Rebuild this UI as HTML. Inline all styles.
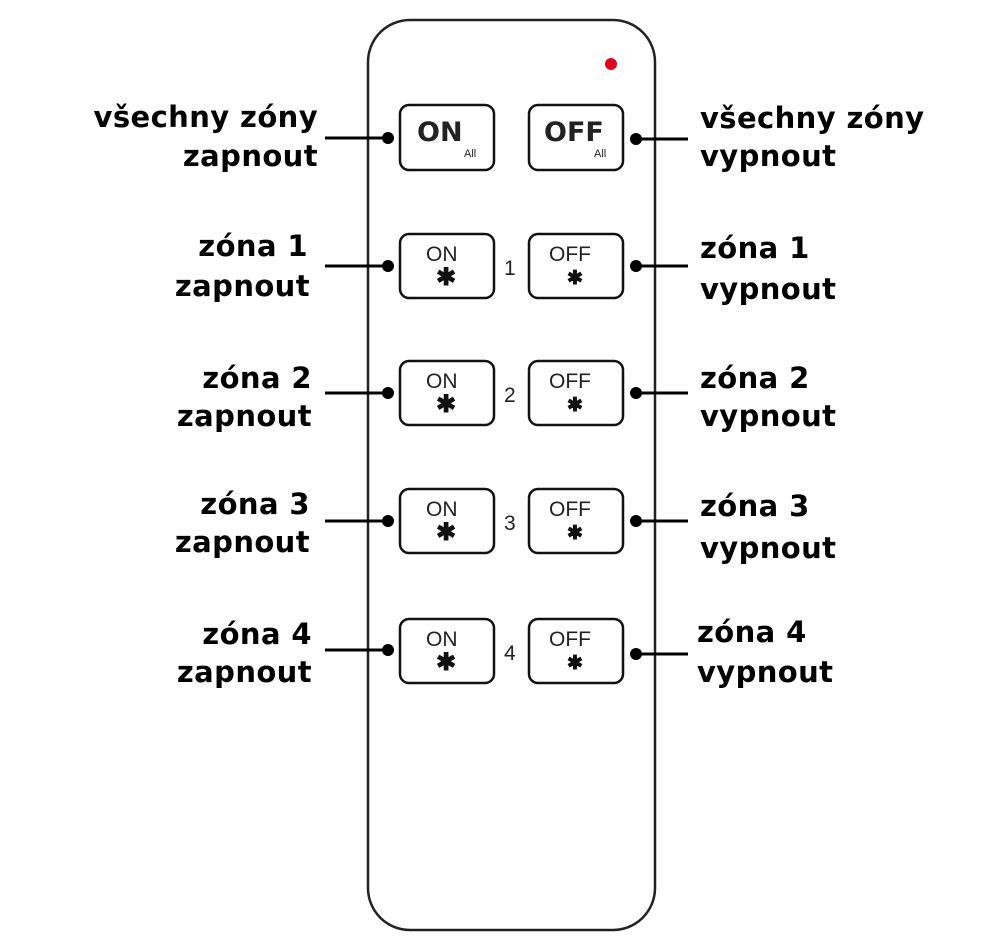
<!DOCTYPE html>
<html><head><meta charset="utf-8"><style>
html,body{margin:0;padding:0;background:#fff;}
svg{display:block}
.l{font-family:"DejaVu Sans","Liberation Sans",sans-serif;font-weight:bold;font-size:29px;letter-spacing:0.4px;fill:#000}
.b{font-family:"Liberation Sans","DejaVu Sans",sans-serif;fill:#222}
</style></head><body>
<svg width="1000" height="942" viewBox="0 0 1000 942" xmlns="http://www.w3.org/2000/svg">
<rect x="368" y="20" width="287" height="910" rx="42" ry="42" fill="none" stroke="#222" stroke-width="2.5"/>
<circle cx="611" cy="64" r="6" fill="#e0001b"/>
<g fill="none" stroke="#111" stroke-width="2.5">
<rect x="400" y="105" width="94" height="65" rx="9"/>
<rect x="529" y="105" width="94" height="65" rx="9"/>
<rect x="400" y="234" width="94" height="64" rx="9"/>
<rect x="529" y="234" width="94" height="64" rx="9"/>
<rect x="400" y="361" width="94" height="64" rx="9"/>
<rect x="529" y="361" width="94" height="64" rx="9"/>
<rect x="400" y="489" width="94" height="64" rx="9"/>
<rect x="529" y="489" width="94" height="64" rx="9"/>
<rect x="400" y="619" width="94" height="64" rx="9"/>
<rect x="529" y="619" width="94" height="64" rx="9"/>
</g>
<g stroke="#000" stroke-width="3">
<line x1="325" y1="138" x2="388" y2="138"/><line x1="636" y1="139" x2="688" y2="139"/>
<line x1="325" y1="266" x2="388" y2="266"/><line x1="636" y1="266" x2="688" y2="266"/>
<line x1="325" y1="393" x2="388" y2="393"/><line x1="636" y1="393" x2="688" y2="393"/>
<line x1="325" y1="521" x2="388" y2="521"/><line x1="636" y1="521" x2="688" y2="521"/>
<line x1="325" y1="650" x2="388" y2="650"/><line x1="636" y1="654" x2="688" y2="654"/>
</g>
<g fill="#000">
<circle cx="388" cy="138" r="6"/><circle cx="636" cy="139" r="6"/>
<circle cx="388" cy="266" r="6"/><circle cx="636" cy="266" r="6"/>
<circle cx="388" cy="393" r="6"/><circle cx="636" cy="393" r="6"/>
<circle cx="388" cy="521" r="6"/><circle cx="636" cy="521" r="6"/>
<circle cx="388" cy="650" r="6"/><circle cx="636" cy="654" r="6"/>
</g>
<text class="b" x="417" y="141" font-size="27" font-weight="bold" style="font-family:'DejaVu Sans',sans-serif">ON</text>
<text class="b" x="464" y="157" font-size="11">All</text>
<text class="b" x="544" y="141" font-size="27" font-weight="bold" style="font-family:'DejaVu Sans',sans-serif">OFF</text>
<text class="b" x="594" y="157" font-size="11">All</text>
<g class="b" font-size="21">
<text x="426" y="261">ON</text><text x="549" y="261">OFF</text><text x="504" y="275">1</text>
<text x="426" y="388">ON</text><text x="549" y="388">OFF</text><text x="504" y="402">2</text>
<text x="426" y="516">ON</text><text x="549" y="516">OFF</text><text x="504" y="530">3</text>
<text x="426" y="646">ON</text><text x="549" y="646">OFF</text><text x="504" y="660">4</text>
</g>
<g font-family="DejaVu Sans,sans-serif" font-weight="bold" fill="#111" text-anchor="middle" stroke="#111" stroke-width="1">
<text x="446" y="285" font-size="24">✱</text><text x="575" y="284" font-size="19">✱</text>
<text x="446" y="412" font-size="24">✱</text><text x="575" y="411" font-size="19">✱</text>
<text x="446" y="540" font-size="24">✱</text><text x="575" y="539" font-size="19">✱</text>
<text x="446" y="670" font-size="24">✱</text><text x="575" y="669" font-size="19">✱</text>
</g>
<g class="l" text-anchor="end">
<text x="318" y="127">všechny zóny</text><text x="318" y="166">zapnout</text>
<text x="308" y="256">zóna 1</text><text x="310" y="296">zapnout</text>
<text x="312" y="388">zóna 2</text><text x="312" y="426">zapnout</text>
<text x="310" y="514">zóna 3</text><text x="310" y="552">zapnout</text>
<text x="312" y="644">zóna 4</text><text x="312" y="682">zapnout</text>
</g>
<g class="l">
<text x="700" y="128">všechny zóny</text><text x="700" y="166">vypnout</text>
<text x="700" y="258">zóna 1</text><text x="700" y="299">vypnout</text>
<text x="700" y="388">zóna 2</text><text x="700" y="426">vypnout</text>
<text x="700" y="516">zóna 3</text><text x="700" y="558">vypnout</text>
<text x="697" y="642">zóna 4</text><text x="697" y="682">vypnout</text>
</g>
</svg>
</body></html>
